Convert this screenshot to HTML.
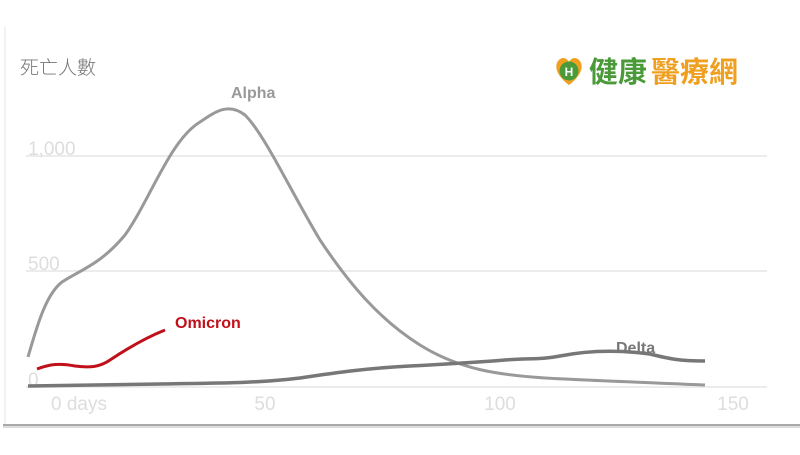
<!DOCTYPE html>
<html><head><meta charset="utf-8"><style>
body{margin:0;background:#fff;width:800px;height:450px;overflow:hidden}
</style></head><body>
<svg width="800" height="450" xmlns="http://www.w3.org/2000/svg" style="font-family:'Liberation Sans','Noto Sans CJK TC',sans-serif">
<rect x="0" y="0" width="800" height="450" fill="#fff"/>
<line x1="5" y1="27" x2="5" y2="424" stroke="#eee" stroke-width="1.5"/>
<line x1="3" y1="425" x2="800" y2="425" stroke="#aaa" stroke-width="2"/>
<line x1="3" y1="427" x2="800" y2="427" stroke="#ddd" stroke-width="2"/>
<text x="20" y="74" font-size="19" fill="#777" font-family="'Noto Sans CJK TC',sans-serif" font-weight="300">死亡人數</text>
<line x1="26" y1="156" x2="767" y2="156" stroke="#e6e6e6" stroke-width="1.5"/>
<line x1="26" y1="271" x2="767" y2="271" stroke="#e6e6e6" stroke-width="1.5"/>
<line x1="26" y1="387" x2="767" y2="387" stroke="#e6e6e6" stroke-width="1.5"/>
<text x="28" y="155" font-size="19" fill="#ddd">1,000</text>
<text x="28" y="270" font-size="19" fill="#ddd">500</text>
<text x="28" y="386" font-size="19" fill="#ddd">0</text>
<g font-size="19" fill="#ddd" text-anchor="middle">
<text x="79" y="410">0 days</text><text x="265" y="410">50</text><text x="500" y="410">100</text><text x="733" y="410">150</text></g>
<path d="M28,357 C36,330 45,295 62,282 C80,270 100,265 125,235 C150,200 170,140 200,122 C215,112 228,102 245,115 C265,135 290,190 320,240 C350,285 380,320 420,345 C460,370 500,375 545,378 C600,381 660,383 705,385" fill="none" stroke="#999" stroke-width="3"/>
<path d="M28,386 L160,384 C220,383 260,383 300,378 C340,372 370,368 410,366 C450,364 480,362 505,360 C530,358 540,360 560,356 C590,350 620,350 650,354 C670,359 680,361 705,361" fill="none" stroke="#777" stroke-width="3.5"/>
<path d="M37,369 C50,364 60,363 75,366 C90,368 100,367 110,360 C125,350 145,338 165,330" fill="none" stroke="#c0101a" stroke-width="3"/>
<text x="231" y="98" font-size="16" font-weight="bold" fill="#999">Alpha</text>
<text x="175" y="328" font-size="16" font-weight="bold" fill="#c0101a">Omicron</text>
<text x="616" y="353" font-size="16" font-weight="bold" fill="#777">Delta</text>
<g transform="translate(555,57)">
<path d="M14,28 C2,19 -1,10 3,4 C7,-1 12,1 14,5 C16,1 21,-1 25,4 C29,10 26,19 14,28Z" fill="#f0a020"/>
<circle cx="14" cy="14" r="9.5" fill="#4a9a3a"/>
<text x="14" y="19" font-size="12" fill="#fff" text-anchor="middle" font-weight="bold">H</text>
</g>
<text x="589" y="82" font-size="29" font-weight="bold" fill="#4a9a3a" font-family="'Noto Sans CJK TC',sans-serif">健康</text>
<text x="651" y="82" font-size="29" font-weight="bold" fill="#f0a020" font-family="'Noto Sans CJK TC',sans-serif">醫療網</text>
</svg>
</body></html>
